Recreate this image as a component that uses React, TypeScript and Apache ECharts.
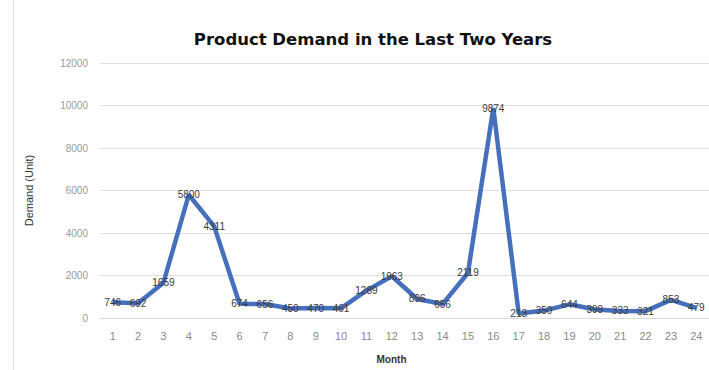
import React, { useEffect, useRef } from "react";
import * as echarts from "echarts";

const months = [
  "1", "2", "3", "4", "5", "6", "7", "8", "9", "10", "11", "12",
  "13", "14", "15", "16", "17", "18", "19", "20", "21", "22", "23", "24",
];
const demand = [
  746, 692, 1659, 5800, 4311, 674, 656, 450, 470, 461, 1289, 1963,
  896, 656, 2119, 9874, 213, 350, 644, 399, 333, 321, 853, 479,
];
const yTicks = { min: 0, max: 12000, interval: 2000 };

const FONT = "Liberation Sans, Arial, sans-serif";

export default function App() {
  const ref = useRef<HTMLDivElement>(null);

  useEffect(() => {
    if (!ref.current) return;
    const chart = echarts.init(ref.current, null, { renderer: "svg" });
    chart.setOption({
      animation: false,
      backgroundColor: "#ffffff",
      title: {
        text: "Product Demand in the Last Two Years",
        left: 368,
        top: 26,
        textAlign: "center",
        textStyle: {
          fontFamily: "DejaVu Sans, sans-serif",
          fontWeight: "bold",
          fontSize: 16.5,
          color: "#111111",
        },
      },
      graphic: [
        {
          type: "line",
          shape: { x1: 13.5, y1: 0, x2: 13.5, y2: 370 },
          style: { stroke: "#e3e3e3", lineWidth: 1 },
        },
      ],
      grid: { left: 100, right: -7, top: 63, bottom: 52 },
      xAxis: {
        type: "category",
        data: months,
        boundaryGap: true,
        name: "Month",
        nameLocation: "middle",
        nameGap: 36,
        nameTextStyle: {
          fontFamily: FONT,
          fontSize: 10,
          fontWeight: "bold",
          color: "#333333",
          padding: [0, 26, 0, 0],
        },
        axisLine: { show: true, lineStyle: { color: "#d9d9d9" } },
        axisTick: { show: false },
        axisLabel: {
          fontFamily: FONT,
          fontSize: 11,
          color: "#8a8a8a",
          margin: 12,
        },
      },
      yAxis: {
        type: "value",
        min: yTicks.min,
        max: yTicks.max,
        interval: yTicks.interval,
        name: "Demand (Unit)",
        nameLocation: "middle",
        nameGap: 66,
        nameTextStyle: {
          fontFamily: FONT,
          fontSize: 11,
          color: "#333333",
        },
        axisLine: { show: false },
        axisTick: { show: false },
        axisLabel: {
          fontFamily: FONT,
          fontSize: 10,
          color: "#9a9a9a",
          margin: 12,
          formatter: (v: number) => String(v),
        },
        splitLine: { lineStyle: { color: "#e0e0e0", width: 1 } },
      },
      series: [
        {
          type: "line",
          data: demand,
          symbol: "circle",
          symbolSize: 1,
          showSymbol: true,
          lineStyle: { color: "#4670bd", width: 4.5 },
          itemStyle: { color: "#4670bd" },
          label: {
            show: true,
            position: "inside",
            fontFamily: FONT,
            fontSize: 10,
            color: "#3a3a3a",
          },
          labelLayout: { hideOverlap: false },
        },
      ],
    });
    return () => chart.dispose();
  }, []);

  return (
    <div
      ref={ref}
      style={{ position: "fixed", left: 0, top: 0, width: 709, height: 370 }}
    />
  );
}
